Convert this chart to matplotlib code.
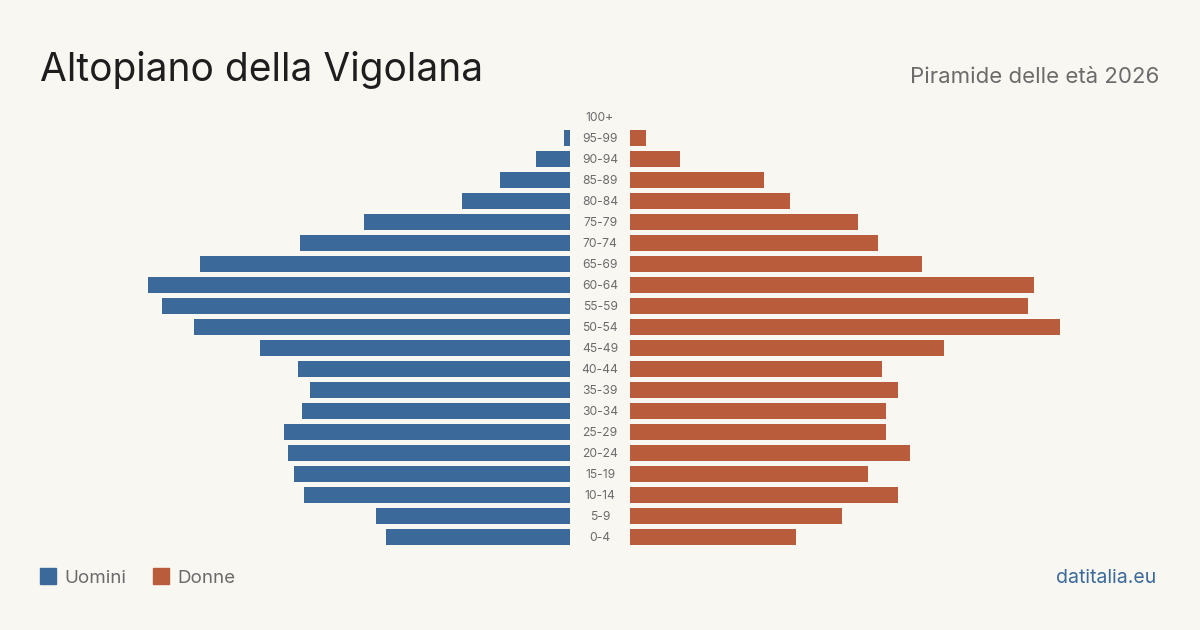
import matplotlib
matplotlib.use("Agg")
import matplotlib.pyplot as plt
from matplotlib.patches import Rectangle

age_groups = ["100+", "95-99", "90-94", "85-89", "80-84", "75-79", "70-74", "65-69",
              "60-64", "55-59", "50-54", "45-49", "40-44", "35-39", "30-34", "25-29",
              "20-24", "15-19", "10-14", "5-9", "0-4"]
men = [0, 3, 17, 35, 54, 103, 135, 185, 211, 204, 188, 155, 136, 130, 134, 143,
       141, 138, 133, 97, 92]
women = [0, 8, 25, 67, 80, 114, 124, 146, 202, 199, 215, 157, 126, 134, 128, 128,
         140, 119, 134, 106, 83]

title = "Altopiano della Vigolana"
subtitle = "Piramide delle età 2026"
legend_labels = ["Uomini", "Donne"]
source = "datitalia.eu"

BG = "#f9f7f2"
BLUE = "#3b6a9a"
ORANGE = "#b95c3c"
GREY = "#6b6b6b"
FONT = ["Inter", "DejaVu Sans"]
plt.rcParams["font.family"] = FONT

W, H = 1200, 630
fig = plt.figure(figsize=(W / 100, H / 100), dpi=100, facecolor=BG)

top = 1 - 106.5 / H
bottom = 1 - 547.5 / H
xmax = 265
axL = fig.add_axes([40 / W, bottom, 530 / W, top - bottom])
axR = fig.add_axes([630 / W, bottom, 530 / W, top - bottom])
n = len(age_groups)
ypos = list(range(n))[::-1]
for ax, vals, col in ((axL, men, BLUE), (axR, women, ORANGE)):
    ax.set_facecolor("none")
    ax.barh(ypos, vals, height=0.8, color=col)
    ax.set_ylim(-0.5, n - 0.5)
    ax.axis("off")
axL.set_xlim(xmax, 0)
axR.set_xlim(0, xmax)

for lab, y in zip(age_groups, ypos):
    yf = bottom + (y + 0.5) / n * (top - bottom) - 1 / H
    fig.text(600 / W, yf, lab, ha="center", va="center", fontsize=8.7, color=GREY)

fig.text(40 / W, 1 - 81 / H, title, ha="left", va="baseline", fontsize=28, color="#1e1e1e")
fig.text(1159 / W, 1 - 83 / H, subtitle, ha="right", va="baseline", fontsize=16, color=GREY)

# legend
for i, (lab, col) in enumerate(zip(legend_labels, [BLUE, ORANGE])):
    x0 = [40, 153][i]
    fig.patches.append(Rectangle((x0 / W, 1 - 584 / H), 16 / W, 16 / H,
                                 transform=fig.transFigure, color=col))
    fig.text((x0 + 24) / W, 1 - 583 / H, lab, ha="left", va="baseline", fontsize=13.5, color=GREY)

fig.text(1156 / W, 1 - 583 / H, source, ha="right", va="baseline", fontsize=14, color=BLUE)

fig.savefig("out.png", dpi=100, facecolor=BG)
